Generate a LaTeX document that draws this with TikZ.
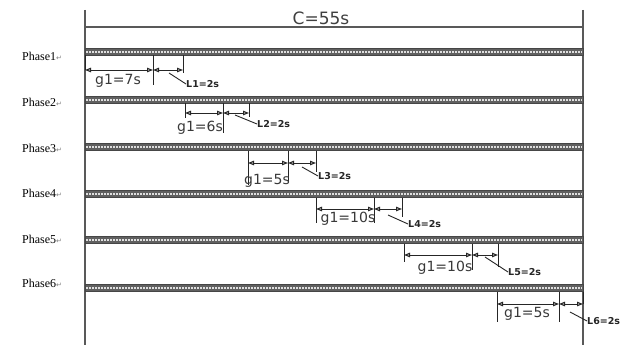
\documentclass[tikz,border=0pt]{standalone}
\usepackage{fontspec}
\setmainfont{Liberation Serif}
\newfontfamily\cadfont{DejaVu Sans}
\newfontfamily\symfont{DejaVu Sans}
\usetikzlibrary{arrows.meta}
\tikzset{
  frameline/.style={draw=gray!70!black, line width=1.4pt},
  barfill/.style={fill=gray!75!black, draw=gray!55!black, line width=0.6pt},
  barhatch/.style={draw=gray!25, line width=1.2pt, dash pattern=on 1.5pt off 1.5pt},
  extline/.style={draw=gray!30!black, line width=0.9pt},
  dimline/.style={draw=gray!30!black, line width=0.9pt, {Triangle[open,length=6pt,width=4.5pt,line width=1.1pt]}-{Triangle[open,length=6pt,width=4.5pt,line width=1.1pt]}},
  leader/.style={draw=gray!30!black, line width=0.9pt},
  gtext/.style={font=\cadfont\fontsize{14}{14}\selectfont, text=gray!45!black, inner sep=0pt},
  ctext/.style={font=\cadfont\fontsize{17}{17}\selectfont, text=gray!50!black, inner sep=0pt},
  ltext/.style={font=\cadfont\bfseries\fontsize{9.5}{10}\selectfont, text=gray!30!black, inner sep=0pt, anchor=west},
  phtext/.style={font=\fontsize{12}{12}\selectfont, text=black, inner sep=0pt, anchor=west},
}
\begin{document}
\begin{tikzpicture}[x=1pt,y=-1pt]
\useasboundingbox[fill=white] (0,0) rectangle (627,345);
% frame
\coordinate (lt) at (85,10);
\coordinate (lb) at (85,345);
\coordinate (rt) at (583,10);
\coordinate (rb) at (583,345);
\coordinate (hl) at (85,27);
\coordinate (hr) at (583,27);
\draw[frameline] (lt) -- (lb);
\draw[frameline] (rt) -- (rb);
\draw[frameline] (hl) -- (hr);
\node[ctext, anchor=base] (C) at (321,25) {C=55s};
\foreach \i/\yb/\xa/\xb/\xc/\yd/\ba/\bb/\bc/\gx/\gy/\gv/\lxa/\lya/\lxb/\lyb/\py in {
  1/52/85/153/183/70/70/85/73/118/81/7s/169/73/186/84/56,
  2/100/185/223/249/113/118/133/117/200/128/6s/235/115/257/124/102,
  3/147/248/288/316/163/185/182/172/267/181/5s/302/167/318/176/148,
  4/194/316/374/402/209/223/223/217/348/219/10s/388/215/408/224/193,
  5/240/404/472/498/255/262/270/267/445/268/10s/485/257/508/272/239,
  6/288/497/559/583/304/322/322/304/527/314/5s/570/312/587/321/283}{
  % phase bar
  \coordinate (bl\i) at (85,{\yb-3.5});
  \coordinate (br\i) at (583,{\yb+3.5});
  \coordinate (hl\i) at (86,\yb);
  \coordinate (hr\i) at (582,\yb);
  \draw[barfill] (bl\i) rectangle (br\i);
  \draw[barhatch] (hl\i) -- (hr\i);
  % phase label
  \node[phtext] (P\i) at (22,\py) {Phase\i{\symfont\fontsize{7}{7}\selectfont\color{gray}↵}};
  % extension lines
  \coordinate (ta\i) at (\xa,{\yb+3.5});
  \coordinate (tb\i) at (\xb,{\yb+3.5});
  \coordinate (tc\i) at (\xc,{\yb+3.5});
  \coordinate (ea\i) at (\xa,\ba);
  \coordinate (eb\i) at (\xb,\bb);
  \coordinate (ec\i) at (\xc,\bc);
  \draw[extline] (ta\i) -- (ea\i);
  \draw[extline] (tb\i) -- (eb\i);
  \draw[extline] (tc\i) -- (ec\i);
  % dimension lines
  \coordinate (da\i) at (\xa,\yd);
  \coordinate (db\i) at (\xb,\yd);
  \coordinate (dc\i) at (\xc,\yd);
  \draw[dimline] (da\i) -- (db\i);
  \draw[dimline] (db\i) -- (dc\i);
  % texts
  \node[gtext] (g\i) at (\gx,\gy) {g1=\gv};
  \coordinate (la\i) at (\lxa,\lya);
  \node[ltext] (L\i) at (\lxb,\lyb) {L\i=2s};
  \draw[leader] (la\i) -- (L\i.west);
}
\end{tikzpicture}
\end{document}
